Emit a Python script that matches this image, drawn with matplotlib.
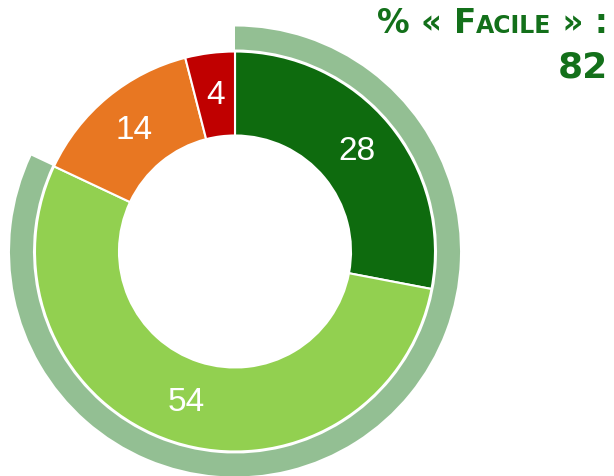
import matplotlib
matplotlib.use("Agg")
import numpy as np
import matplotlib.pyplot as plt
from matplotlib.patches import Wedge

# data
labels = ["Très facile", "Plutôt facile", "Plutôt difficile", "Très difficile"]
values = [28, 54, 14, 4]
colors = ["#0e6b0e", "#92d050", "#e87722", "#c00000"]
facile = values[0] + values[1]

TITLE_GREEN = "#13701a"
ARC_COLOR = "#93bf93"

fig = plt.figure(figsize=(6.14, 4.77), dpi=100)
ax = fig.add_axes([0, 0, 1, 1])

cx, cy = 235, 477 - 252.5
R, r_in = 200, 116

ax.pie(values, colors=colors, startangle=90, counterclock=False,
       center=(cx, cy), radius=R, frame=True,
       wedgeprops=dict(width=R - r_in, edgecolor="white", linewidth=1.5))
ax.set_xlim(0, 614)
ax.set_ylim(0, 477)
ax.set_aspect("equal")
ax.axis("off")

# labels in the middle of the ring
start = 90.0
mid_r = (R + r_in) / 2
for v in values:
    ang = np.deg2rad(start - v / 2 * 3.6)
    ax.text(cx + mid_r * np.cos(ang), cy + mid_r * np.sin(ang), str(v),
            ha="center", va="center", color="white", fontsize=24,
            family="Liberation Sans")
    start -= v * 3.6

# outer arc for the "facile" share
ax.add_patch(Wedge((cx, cy), 225, 90 - facile * 3.6, 90, width=23,
                   facecolor=ARC_COLOR, edgecolor="none"))

# title with fake small caps, built right to left
renderer = fig.canvas.get_renderer()
pieces = [("% « ", 23.5), ("F", 23.5), ("ACILE", 17), (" » :", 23.5)]
x = 608
base = 477 - 33
for txt, fs in reversed(pieces):
    t = ax.text(x, base, txt, ha="right", va="baseline", fontsize=fs,
                fontweight="bold", color=TITLE_GREEN, family="DejaVu Sans")
    x -= t.get_window_extent(renderer).width
ax.text(608, 477 - 78, str(facile), ha="right", va="baseline", fontsize=26,
        fontweight="bold", color=TITLE_GREEN, family="DejaVu Sans")

fig.savefig("out.png", dpi=100)
